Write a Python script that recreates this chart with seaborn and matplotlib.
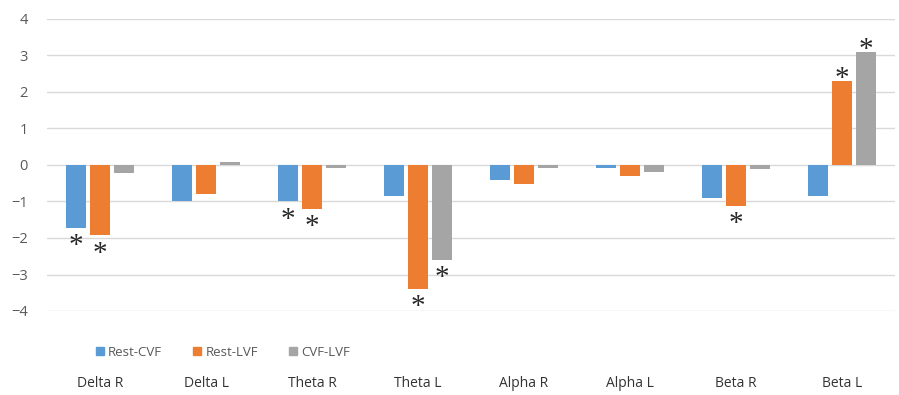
import matplotlib
matplotlib.use("Agg")
import matplotlib.pyplot as plt
import pandas as pd
import seaborn as sns

# EEG band power differences between viewing conditions
bands = ["Delta R", "Delta L", "Theta R", "Theta L",
         "Alpha R", "Alpha L", "Beta R", "Beta L"]
series = ["Rest-CVF", "Rest-LVF", "CVF-LVF"]

rest_cvf = [-1.72, -1.0, -1.0, -0.84, -0.41, -0.08, -0.9, -0.84]
rest_lvf = [-1.93, -0.8, -1.2, -3.4, -0.52, -0.31, -1.12, 2.3]
cvf_lvf = [-0.21, 0.08, -0.09, -2.6, -0.08, -0.2, -0.12, 3.1]

# significant differences (marked with an asterisk)
sig_rest_cvf = [True, False, True, False, False, False, False, False]
sig_rest_lvf = [True, False, True, True, False, False, True, True]
sig_cvf_lvf = [False, False, False, True, False, False, False, True]

colors = ["#5B9BD5", "#ED7D31", "#A5A5A5"]
y_ticks = [-4, -3, -2, -1, 0, 1, 2, 3, 4]

sns.set_style("white")
plt.rcParams["font.family"] = ["Open Sans", "DejaVu Sans"]

values = [rest_cvf, rest_lvf, cvf_lvf]
flags = [sig_rest_cvf, sig_rest_lvf, sig_cvf_lvf]
df = pd.DataFrame({
    "band": [b for _ in series for b in bands],
    "series": [s for s in series for _ in bands],
    "value": [v for vals in values for v in vals],
})

fig = plt.figure(figsize=(8.99, 3.95), dpi=100)
ax = fig.add_axes([47 / 899, 1 - 311 / 395, 848 / 899, 292 / 395])

sns.barplot(data=df, x="band", y="value", hue="series", order=bands,
            hue_order=series, palette=colors, width=0.68, gap=0.2,
            saturation=1, errorbar=None, legend=False, ax=ax, zorder=3,
            linewidth=0)

ax.set_ylim(-4, 4)
ax.set_xlim(-0.5, len(bands) - 0.5)
ax.set_yticks(y_ticks)
ax.set_yticklabels([str(t).replace("-", "\u2212") for t in y_ticks])
ax.grid(axis="y", color="#D9D9D9", linewidth=1.0, zorder=0)
ax.grid(axis="x", visible=False)
for sp in ax.spines.values():
    sp.set_visible(False)
ax.tick_params(axis="y", length=0, pad=14, labelsize=10.5, labelcolor="#595959")
ax.tick_params(axis="x", length=0, pad=47, labelsize=10, labelcolor="#333333")
ax.set_xlabel("")
ax.set_ylabel("")

# asterisks beyond the end of each significant bar
for container, sig in zip(ax.containers, flags):
    for bar, s in zip(container.patches, sig):
        if not s:
            continue
        x = bar.get_x() + bar.get_width() / 2
        top = max(bar.get_y(), bar.get_y() + bar.get_height())
        bottom = min(bar.get_y(), bar.get_y() + bar.get_height())
        if top > 0:
            anchor, dy = (x, top), 1.5
        else:
            anchor, dy = (x, bottom), -13
        ax.annotate("*", anchor, xytext=(0, dy), textcoords="offset points",
                    ha="center", va="center", fontsize=21,
                    family="Liberation Serif", color="#262626",
                    annotation_clip=False)

handles = [plt.Rectangle((0, 0), 1, 1, color=c) for c in colors]
fig.legend(handles, series, loc="center",
           bbox_to_anchor=(223 / 899, 1 - 352 / 395), ncol=3, frameon=False,
           handlelength=0.6, handleheight=0.6, handletextpad=0.3,
           columnspacing=2.4, fontsize=9.5, labelcolor="#595959")

fig.savefig("out.png", dpi=100)
